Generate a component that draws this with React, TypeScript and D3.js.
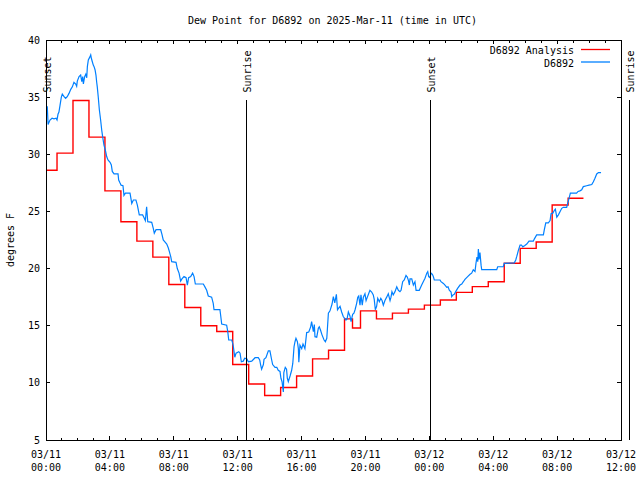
import React from "react";
import * as d3 from "d3";

const TITLE = "Dew Point for D6892 on 2025-Mar-11 (time in UTC)";
const Y_LABEL = "degrees F";

const X_TICK_HOURS = [0, 4, 8, 12, 16, 20, 24, 28, 32, 36];
const X_TICK_DATES = ["03/11", "03/11", "03/11", "03/11", "03/11", "03/11", "03/12", "03/12", "03/12", "03/12"];
const X_TICK_TIMES = ["00:00", "04:00", "08:00", "12:00", "16:00", "20:00", "00:00", "04:00", "08:00", "12:00"];
const Y_TICKS = [5, 10, 15, 20, 25, 30, 35, 40];

const EVENT_LABELS = ["Sunset", "Sunrise", "Sunset", "Sunrise"];
const EVENT_HOURS = [0.03, 12.54, 24.06, 36.52];

const SERIES_NAMES = ["D6892 Analysis", "D6892"];

// hours since 03/11 00:00 UTC, dew point F
const ANALYSIS: [number, number][] = [
  [0, 28.6], [0.69, 30.1], [1.69, 34.7], [2.69, 31.5], [3.69, 26.8], [4.69, 24.1],
  [5.69, 22.4], [6.69, 21.0], [7.69, 18.6], [8.69, 16.6], [9.69, 15.0], [10.69, 14.5],
  [11.69, 11.6], [12.69, 9.9], [13.69, 8.9], [14.69, 9.6], [15.69, 10.6], [16.69, 12.1],
  [17.69, 12.85], [18.69, 15.6], [19.19, 14.8], [19.69, 16.3], [20.69, 15.6], [21.69, 16.1],
  [22.69, 16.45], [23.69, 16.8], [24.69, 17.25], [25.69, 17.92], [26.69, 18.42], [27.69, 18.85],
  [28.69, 20.46], [29.69, 21.77], [30.69, 22.33], [31.69, 25.56], [32.69, 26.15], [33.65, 26.15],
];

const OBS: [number, number][] = [
  [0.08, 34.2], [0.13, 32.6], [0.25, 33.0], [0.38, 33.15], [0.5, 33.1], [0.63, 33.15], [0.69, 33.0],
  [0.75, 33.5], [0.81, 33.7], [0.88, 34.3], [0.96, 35.0], [1.02, 35.27], [1.13, 35.04], [1.23, 34.9],
  [1.33, 35.04], [1.44, 35.33], [1.55, 35.68], [1.65, 35.9], [1.75, 36.3], [1.86, 36.15], [1.92, 35.95],
  [1.96, 36.4], [2.07, 36.8], [2.17, 36.94], [2.24, 36.35], [2.3, 36.8], [2.34, 36.15], [2.42, 36.8],
  [2.49, 37.0], [2.55, 36.7], [2.59, 37.67], [2.65, 38.25], [2.74, 38.5], [2.8, 38.7], [2.84, 38.4],
  [2.9, 38.1], [2.96, 37.8], [3.01, 37.67], [3.07, 37.4], [3.13, 36.9], [3.17, 36.35], [3.21, 35.9],
  [3.27, 35.04], [3.34, 33.9], [3.42, 33.0], [3.49, 32.1], [3.55, 31.5], [3.63, 30.8], [3.71, 30.4],
  [3.8, 29.8], [3.88, 29.5], [4.01, 29.3], [4.09, 29.06], [4.15, 28.5], [4.26, 28.28], [4.38, 28.28],
  [4.51, 28.28], [4.55, 27.75], [4.63, 27.5], [4.7, 27.3], [4.82, 27.25], [4.88, 26.4], [4.97, 26.6],
  [5.26, 26.6], [5.37, 25.7], [5.47, 26.0], [5.63, 26.0], [5.72, 25.56], [5.84, 24.7], [6.05, 24.7],
  [6.14, 24.45], [6.22, 24.2], [6.3, 25.4], [6.37, 24.1], [6.62, 24.05], [6.72, 23.5], [6.78, 23.1],
  [6.89, 23.4], [7.18, 23.4], [7.26, 23.0], [7.34, 22.5], [7.56, 22.15], [7.66, 21.8], [7.72, 21.5],
  [7.81, 21.04], [7.87, 20.6], [8.14, 20.55], [8.22, 20.0], [8.33, 19.6], [8.43, 18.9], [8.51, 19.1],
  [8.64, 19.3], [8.77, 19.2], [8.85, 18.56], [8.93, 19.2], [9.06, 19.3], [9.18, 19.6], [9.27, 19.3],
  [9.35, 18.65], [9.85, 18.65], [9.95, 18.4], [10.06, 18.1], [10.16, 17.6], [10.37, 17.5], [10.47, 16.96],
  [10.52, 16.4], [10.89, 16.4], [10.94, 15.85], [11.0, 15.15], [11.31, 15.04], [11.38, 14.48],
  [11.44, 13.75], [11.63, 13.75], [11.69, 13.46], [11.73, 13.17], [11.82, 12.24], [11.9, 12.6],
  [12.07, 12.73], [12.15, 12.6], [12.23, 11.85], [12.35, 11.9], [12.44, 12.15], [12.57, 12.1],
  [12.67, 11.85], [12.88, 11.9], [13.09, 12.2], [13.29, 12.2], [13.38, 12.0], [13.44, 11.56],
  [13.5, 11.2], [13.61, 11.6], [13.65, 12.06], [13.77, 12.2], [13.92, 12.8], [14.02, 12.8],
  [14.13, 12.0], [14.19, 11.6], [14.34, 11.36], [14.45, 11.36], [14.54, 11.1], [14.65, 11.0],
  [14.71, 10.4], [14.78, 10.1], [14.86, 9.2], [14.89, 10.9], [14.98, 11.36], [15.06, 11.2],
  [15.11, 10.4], [15.17, 10.1], [15.28, 10.6], [15.38, 11.1], [15.45, 11.7], [15.53, 13.17],
  [15.59, 13.6], [15.65, 13.9], [15.74, 13.6], [15.8, 13.0], [15.83, 11.8], [15.9, 13.3],
  [16.01, 13.0], [16.09, 13.4], [16.15, 13.2], [16.21, 13.0], [16.32, 14.4], [16.45, 14.45],
  [16.57, 14.9], [16.63, 15.35], [16.74, 14.48], [16.8, 15.1], [16.84, 14.04], [16.95, 14.0],
  [17.05, 14.77], [17.11, 14.9], [17.19, 14.6], [17.28, 14.2], [17.41, 13.75], [17.49, 13.6],
  [17.58, 13.9], [17.68, 16.1], [17.78, 16.3], [17.91, 16.9], [17.99, 17.54], [18.08, 17.0],
  [18.18, 17.75], [18.25, 16.4], [18.3, 16.5], [18.41, 16.7], [18.51, 16.2], [18.61, 15.8],
  [18.78, 15.5], [18.85, 15.6], [18.93, 16.2], [19.03, 15.85], [19.1, 15.35], [19.2, 16.0],
  [19.28, 16.1], [19.35, 16.4], [19.45, 16.96], [19.52, 17.5], [19.58, 17.6], [19.62, 17.2],
  [19.66, 16.8], [19.72, 17.7], [19.8, 16.8], [19.87, 17.5], [19.97, 17.8], [20.04, 17.2],
  [20.12, 17.5], [20.2, 17.8], [20.28, 18.1], [20.39, 17.95], [20.49, 17.7], [20.55, 17.3],
  [20.62, 16.4], [20.7, 16.7], [20.77, 17.4], [20.87, 17.1], [20.96, 17.4], [21.04, 17.2],
  [21.12, 16.8], [21.22, 17.2], [21.33, 17.5], [21.43, 17.8], [21.54, 17.2], [21.6, 17.5],
  [21.66, 17.98], [21.74, 17.7], [21.85, 17.98], [21.96, 18.4], [22.06, 18.1], [22.16, 17.98],
  [22.23, 18.1], [22.33, 18.85], [22.43, 19.0], [22.54, 19.4], [22.62, 19.25], [22.69, 18.97],
  [22.75, 18.56], [22.79, 19.1], [22.9, 19.1], [23.0, 18.56], [23.1, 18.85], [23.17, 18.1],
  [23.37, 18.1], [23.52, 18.56], [23.62, 18.85], [23.73, 19.15], [23.84, 19.6], [23.9, 19.74],
  [23.96, 19.3], [24.04, 19.2], [24.11, 19.6], [24.19, 19.5], [24.25, 19.3], [24.31, 19.0],
  [24.67, 19.0], [24.73, 18.85], [24.88, 18.7], [24.98, 18.55], [25.09, 18.36], [25.17, 18.4],
  [25.25, 18.1], [25.36, 17.95], [25.4, 17.54], [25.48, 17.7], [25.56, 17.75], [25.65, 17.98],
  [25.77, 18.27], [25.92, 18.56], [26.03, 18.65], [26.13, 18.85], [26.23, 19.06], [26.4, 19.3],
  [26.55, 19.5], [26.65, 19.6], [26.75, 19.9], [26.86, 19.75], [26.92, 20.46], [26.98, 21.0],
  [27.03, 20.6], [27.07, 21.7], [27.11, 20.8], [27.17, 21.4], [27.24, 20.3], [27.28, 19.9],
  [27.91, 19.9], [28.22, 19.9], [28.28, 20.16], [28.63, 20.16], [28.69, 20.46], [29.32, 20.5],
  [29.41, 20.75], [29.47, 21.04], [29.57, 21.57], [29.68, 22.06], [29.77, 22.06], [29.85, 21.9],
  [29.96, 22.0], [30.1, 22.15], [30.24, 22.4], [30.51, 22.4], [30.57, 22.58], [30.72, 22.94],
  [31.14, 22.94], [31.2, 23.4], [31.29, 24.0], [31.45, 24.0], [31.56, 24.2], [31.62, 24.8],
  [31.73, 24.85], [31.83, 25.1], [31.89, 25.2], [31.98, 24.5], [32.08, 24.7], [32.18, 24.98],
  [32.29, 25.27], [32.39, 25.36], [32.6, 25.36], [32.66, 25.7], [32.74, 26.1], [32.83, 26.6],
  [33.22, 26.6], [33.31, 26.75], [33.43, 26.8], [33.54, 26.9], [33.64, 27.17], [33.85, 27.25],
  [34.0, 27.3], [34.17, 27.35], [34.27, 27.6], [34.37, 27.9], [34.48, 28.28], [34.59, 28.4],
  [34.75, 28.4],
];

const RED = "#ff0000";
const BLUE = "#0080ff";
const FONT = "'DejaVu Sans Mono', 'Liberation Mono', monospace";

export default function App() {
  const W = 640, H = 480;
  const left = 46, right = 621, top = 40, bottom = 440;
  const x = d3.scaleLinear().domain([0, 36]).range([left, right]);
  const y = d3.scaleLinear().domain([5, 40]).range([bottom, top]);

  const redLine = d3.line<[number, number]>().x(d => x(d[0])).y(d => y(d[1])).curve(d3.curveStepAfter);
  const blueLine = d3.line<[number, number]>().x(d => x(d[0])).y(d => y(d[1]));

  const minorHours = d3.range(0, 37, 1);

  return (
    <svg width={W} height={H} style={{ position: "fixed", left: 0, top: 0, display: "block", background: "#fff" }}
      fontFamily={FONT} fontSize={10}>
      <rect x={0} y={0} width={W} height={H} fill="#fff" />
      <text x={(left + right) / 2 - 1} y={24} textAnchor="middle">{TITLE}</text>

      {/* data */}
      <path d={redLine(ANALYSIS) || ""} fill="none" stroke={RED} strokeWidth={1.4} />
      <path d={blueLine(OBS) || ""} fill="none" stroke={BLUE} strokeWidth={1.2} />

      {/* frame */}
      <g shapeRendering="crispEdges" stroke="#000" strokeWidth={1}>
        <rect x={left} y={top} width={right - left} height={bottom - top} fill="none" />
        {minorHours.map(h => {
          const major = h % 4 === 0;
          const len = major ? 4 : 2.5;
          return (
            <g key={"t" + h}>
              <line x1={x(h)} x2={x(h)} y1={bottom} y2={bottom - len} />
              <line x1={x(h)} x2={x(h)} y1={top} y2={top + len} />
            </g>
          );
        })}
        {Y_TICKS.map(v => (
          <g key={"y" + v}>
            <line x1={left} x2={left + 4} y1={y(v)} y2={y(v)} />
            <line x1={right} x2={right - 4} y1={y(v)} y2={y(v)} />
          </g>
        ))}
        {EVENT_HOURS.map((h, i) => (
          <line key={"e" + i} x1={x(h)} x2={x(h)} y1={99.5} y2={bottom} />
        ))}
      </g>

      {/* tick labels */}
      {X_TICK_HOURS.map((h, i) => (
        <g key={"xl" + h}>
          <text x={x(h)} y={458} textAnchor="middle">{X_TICK_DATES[i]}</text>
          <text x={x(h)} y={471} textAnchor="middle">{X_TICK_TIMES[i]}</text>
        </g>
      ))}
      {Y_TICKS.map(v => (
        <text key={"yl" + v} x={40} y={y(v) + 3.6} textAnchor="end">{v}</text>
      ))}
      <text transform={`translate(13.5,${(top + bottom) / 2}) rotate(-90)`} textAnchor="middle">{Y_LABEL}</text>

      {/* event labels */}
      {EVENT_HOURS.map((h, i) => (
        <text key={"el" + i} transform={`translate(${x(h) + 4.5},92.5) rotate(-90)`} textAnchor="start">
          {EVENT_LABELS[i]}
        </text>
      ))}

      {/* legend */}
      <text x={574} y={54} textAnchor="end">{SERIES_NAMES[0]}</text>
      <line x1={581} x2={610} y1={49.5} y2={49.5} stroke={RED} strokeWidth={1.3} />
      <text x={574} y={66.5} textAnchor="end">{SERIES_NAMES[1]}</text>
      <line x1={581} x2={610} y1={62} y2={62} stroke={BLUE} strokeWidth={1.3} />
    </svg>
  );
}
